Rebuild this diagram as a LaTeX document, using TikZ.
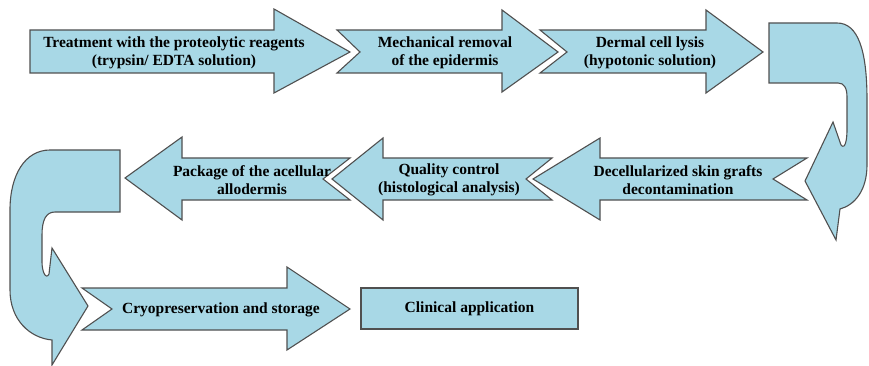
\documentclass[tikz,border=0pt]{standalone}
\usepackage{fontspec}
\setmainfont{Liberation Serif}
\definecolor{skyfill}{RGB}{168,216,230}
\definecolor{edgegray}{RGB}{80,80,80}
\begin{document}
\begin{tikzpicture}[x=1pt, y=-1pt, line join=miter,
    blockarrow/.style={fill=skyfill, draw=edgegray, line width=1.1pt},
    steptext/.style={font=\bfseries\fontsize{15.5}{17.5}\selectfont, align=center, inner sep=0pt}]
    \useasboundingbox (0,0) rectangle (869,366);

    \draw[blockarrow] (30,30) -- (274,30) -- (274,9) -- (350,52) -- (274,93) -- (274,73) -- (30,73) -- cycle;
    \draw[blockarrow] (337,30) -- (502,30) -- (502,10) -- (558,52) -- (502,92) -- (502,73) -- (337,73) -- (360,52) -- cycle;
    \draw[blockarrow] (540,30) -- (706,30) -- (706,10) -- (763,52) -- (706,93) -- (706,73) -- (540,73) -- (567,52) -- cycle;

    \draw[blockarrow] (769,23) -- (837,23) .. controls (858,23) and (867,50) .. (867,100) -- (867,165)
        .. controls (867,190) and (855,205) .. (840,209) -- (836,240) -- (805,181) -- (833,122) -- (841,145)
        .. controls (845,150) and (847,140) .. (847,130) -- (847,97) .. controls (847,88) and (844,83) .. (838,83)
        -- (769,83) -- cycle;

    \draw[blockarrow] (807,158) -- (600,158) -- (600,138) -- (533,179) -- (600,220) -- (600,200) -- (807,200) -- (773,179) -- cycle;
    \draw[blockarrow] (552,158) -- (383,158) -- (383,138) -- (332,179) -- (383,220) -- (383,200) -- (552,200) -- (526,179) -- cycle;
    \draw[blockarrow] (350,158) -- (182,158) -- (182,137) -- (125,178) -- (182,220) -- (182,200) -- (350,200) -- (323,179) -- cycle;

    \draw[blockarrow] (120,150) -- (50,150) .. controls (25,150) and (10,175) .. (10,210) -- (10,290)
        .. controls (10,320) and (30,338) .. (52,340) -- (52,365) -- (88,306) -- (52,248) -- (49,274)
        .. controls (46,280) and (42,272) .. (42,262) -- (42,235) .. controls (42,220) and (46,212) .. (55,212)
        -- (120,212) -- cycle;

    \draw[blockarrow] (82,288) -- (287,288) -- (287,267) -- (350,309) -- (287,350) -- (287,330) -- (82,330) -- (112,309) -- cycle;

    \node[steptext] (treat) at (174,53) {Treatment with the proteolytic reagents\\(trypsin/ EDTA solution)};
    \node[steptext] (mech) at (445,53) {Mechanical removal\\of the epidermis};
    \node[steptext] (lysis) at (650,53) {Dermal cell lysis\\(hypotonic solution)};
    \node[steptext] (decont) at (678,180) {Decellularized skin grafts\\decontamination};
    \node[steptext] (quality) at (449,180) {Quality control\\(histological analysis)};
    \node[steptext] (package) at (252,180) {Package of the acellular\\allodermis};
    \node[steptext] (cryo) at (221,310) {Cryopreservation and storage};
    \node[steptext, blockarrow, minimum width=217pt, minimum height=41pt] (clinic) at (469.5,308.5) {Clinical application};
\end{tikzpicture}
\end{document}
